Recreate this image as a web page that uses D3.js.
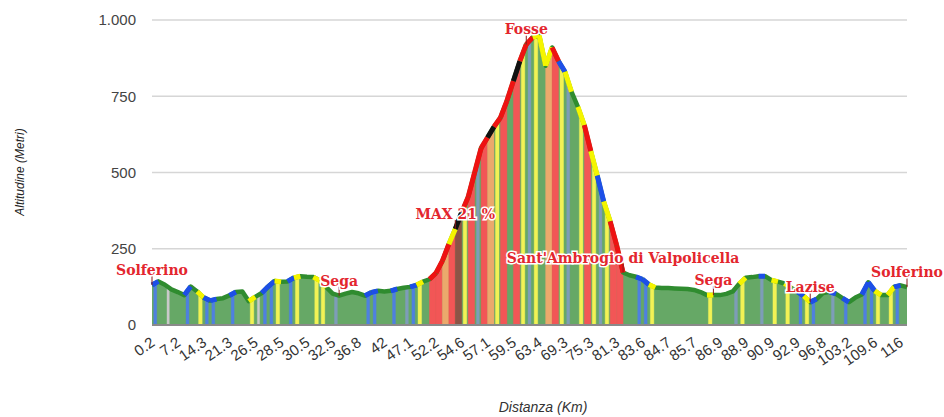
<!DOCTYPE html>
<html>
<head>
<meta charset="utf-8">
<script src="https://cdn.jsdelivr.net/npm/d3@7"></script>
<style>
  body { margin: 0; background: #fff; }
  svg { display: block; }
</style>
</head>
<body>
<div id="profilo"></div>
<script>
// altimetria ogni punto del percorso (metri)
var quota = [
  131, 143, 132, 117, 108, 98, 126, 110, 90, 80,
  85, 88, 97, 108, 110, 78, 92, 105, 126, 144,
  142, 143, 155, 160, 158, 157, 146, 124, 103, 96,
  103, 108, 104, 96, 107, 112, 110, 112, 118, 122,
  125, 131, 142, 150, 170, 210, 265, 315, 370, 420,
  500, 580, 615, 650, 680, 735, 800, 865, 920, 943,
  950, 850, 910, 865, 830, 765, 715, 655, 570, 490,
  405, 340, 262, 172, 163, 158, 150, 133, 123, 121,
  121, 120, 119, 118, 115, 108, 98, 98, 98, 102,
  110, 135, 155, 157, 160, 160, 147, 142, 136, 122,
  109, 95, 75, 85, 105, 109, 102, 88, 75, 90,
  100, 140, 112, 98, 98, 125, 130, 124
]

// etichette dell'asse x (una ogni 4 punti)
var etichetteKm = ["0.2", "7.2", "14.3", "21.3", "26.5", "28.5", "30.5", "32.5", "36.8", "42",
  "47.1", "52.2", "54.6", "57.1", "59.5", "63.4", "69.3", "75.3", "81.3", "83.6",
  "84.7", "85.7", "86.9", "88.9", "90.9", "92.9", "96.8", "103.2", "109.6", "116"]
var puntiPerEtichetta = 4

// classe di pendenza di ogni tratto: riempimento e linea
var fasce = ("BGWGGBGYBB" + "GGBGGYWBBY" + "GBYGGYYGSG" + "GGGBBGGBGS" + "BYGRRORKYR" +
  "SROYRGRYSY" + "GORYSGYRYS" + "YRRGGBBYGG" + "GGGGGGYGGG" + "SYGGSGYGYG" +
  "BYBGGSGBGG" + "BBYGYBG").split("")
var linea = ("BGGGGBGYBB" + "GGBGGYGBBY" + "GBYGGYYGGG" + "GGGBBGGBGG" + "BYGRRRYKRR" +
  "RRKRRRKRRY" + "YYRBYGYRYB" + "YRRGGBBYGG" + "GGGGGGYGGG" + "GYGGBGYGYG" +
  "BYBGGBGBGG" + "BBYGYBG").split("")

// località annotate
var luoghi = ["Solferino", "Sega", "MAX 21 %", "Fosse", "Sant'Ambrogio di Valpolicella", "Sega", "Lazise", "Solferino"]
var luoghiIdx = [0, 29, 47, 58, 73, 87, 102, 117]

var yTicks = [0, 250, 500, 750, 1000]

var coloreFascia = { G: "#66a866", B: "#4f80e0", Y: "#f2f255", R: "#f25656", S: "#7e9db8", O: "#eba96c", K: "#8c5446", W: "#c9c9c9" }
var larghezzaFascia = { G: 1, B: 0.45, Y: 0.55, R: 1, S: 0.45, O: 1, K: 1, W: 0.35 }
var coloreLinea = { G: "#2f8c2f", B: "#1d4fe8", Y: "#f5f500", R: "#ee1212", K: "#111111" }

var width = 944,
    height = 417,
    plotL = 152, plotR = 907, plotT = 20, plotB = 325

var svg = d3.select("#profilo")
  .append("svg")
    .attr("width", width)
    .attr("height", height)

var x = d3.scalePoint()
  .domain(d3.range(quota.length))
  .range([plotL, plotR])

var y = d3.scaleLinear()
  .domain([0, 1000])
  .range([plotB, plotT])

var it = d3.formatLocale({ decimal: ",", thousands: ".", grouping: [3], currency: ["€", ""] })

// griglia
svg.append("g")
  .selectAll("line")
  .data(yTicks.filter(function(d) { return d > 0 }))
  .enter()
  .append("line")
    .attr("x1", plotL).attr("x2", plotR)
    .attr("y1", function(d) { return y(d) }).attr("y2", function(d) { return y(d) })
    .attr("stroke", "#d6d6d6")
    .attr("stroke-width", 1.5)

// area verde di fondo
var area = d3.area()
  .x(function(d) { return x(d) })
  .y0(y(0))
  .y1(function(d) { return y(quota[d]) })

svg.append("path")
  .attr("d", area(d3.range(quota.length)))
  .attr("fill", coloreFascia.G)

// fasce colorate: ogni tratto i -> i+1, ristretto al centro secondo la classe
var fascia = d3.area()
  .x(function(p) { return p[0] })
  .y0(y(0))
  .y1(function(p) { return p[1] })

svg.append("g")
  .selectAll("path")
  .data(fasce.map(function(c, i) { return { c: c, i: i } }).filter(function(d) { return d.c !== "G" }))
  .enter()
  .append("path")
    .attr("d", function(d) {
      var m = (1 - larghezzaFascia[d.c]) / 2
      var ya = y(quota[d.i]), yb = y(quota[d.i + 1])
      var xa = x(d.i), xb = x(d.i + 1)
      return fascia([
        [xa + m * (xb - xa), ya + m * (yb - ya)],
        [xb - m * (xb - xa), yb - m * (yb - ya)]
      ])
    })
    .attr("fill", function(d) { return coloreFascia[d.c] })
    .attr("stroke", function(d) { return coloreFascia[d.c] })
    .attr("stroke-width", 0.4)

// linea del profilo
var line = d3.line()
  .x(function(d) { return x(d) })
  .y(function(d) { return y(quota[d]) })

svg.append("path")
  .attr("d", line(d3.range(quota.length)))
  .attr("fill", "none")
  .attr("stroke", coloreLinea.G)
  .attr("stroke-width", 4.5)
  .attr("stroke-linejoin", "round")

// tratti colorati della linea
svg.append("g")
  .selectAll("path")
  .data(linea.map(function(c, i) { return { c: c, i: i } }).filter(function(d) { return d.c !== "G" }))
  .enter()
  .append("path")
    .attr("d", function(d) { return line([d.i, d.i + 1]) })
    .attr("fill", "none")
    .attr("stroke", function(d) { return coloreLinea[d.c] })
    .attr("stroke-width", 5)

// linea di base
svg.append("line")
  .attr("x1", plotL).attr("x2", plotR)
  .attr("y1", y(0)).attr("y2", y(0))
  .attr("stroke", "#8a8a8a")
  .attr("stroke-width", 2)

// asse y
svg.append("g")
  .selectAll("text")
  .data(yTicks)
  .enter()
  .append("text")
    .attr("x", 136)
    .attr("y", function(d) { return y(d) })
    .attr("dy", "0.36em")
    .attr("text-anchor", "end")
    .style("font-family", "'Liberation Sans', Arial, sans-serif")
    .style("font-size", "15px")
    .style("fill", "#444")
    .text(function(d) { return it.format(",")(d) })

// asse x con etichette inclinate
svg.append("g")
  .selectAll("text")
  .data(etichetteKm)
  .enter()
  .append("text")
    .attr("transform", function(d, i) { return "translate(" + (x(i * puntiPerEtichetta) - 3) + "," + 335 + ") rotate(-35)" })
    .attr("dy", "0.8em")
    .attr("text-anchor", "end")
    .style("font-family", "'Liberation Sans', Arial, sans-serif")
    .style("font-size", "15px")
    .style("fill", "#333")
    .text(function(d) { return d })

// titoli
svg.append("text")
  .attr("transform", "translate(24,172) rotate(-90)")
  .attr("text-anchor", "middle")
  .style("font-family", "'Liberation Sans', Arial, sans-serif")
  .style("font-style", "italic")
  .style("font-size", "12px")
  .style("fill", "#222")
  .text("Altitudine (Metri)")

svg.append("text")
  .attr("x", 543)
  .attr("y", 412)
  .attr("text-anchor", "middle")
  .style("font-family", "'Liberation Sans', Arial, sans-serif")
  .style("font-style", "italic")
  .style("font-size", "14px")
  .style("fill", "#333")
  .text("Distanza (Km)")

// annotazioni
var ann = svg.append("g")
  .selectAll("g")
  .data(luoghi)
  .enter()
  .append("g")
    .attr("transform", function(d, i) { var k = luoghiIdx[i]; return "translate(" + x(k) + "," + y(quota[k]) + ")" })

ann.append("line")
  .attr("y1", 0).attr("y2", -9)
  .attr("stroke", "#8b1a1a")
  .attr("stroke-width", 1)

ann.append("text")
  .attr("y", -10)
  .attr("text-anchor", "middle")
  .style("font-family", "'DejaVu Serif', serif")
  .style("font-weight", "bold")
  .style("font-size", "14px")
  .style("fill", "#e3262e")
  .style("stroke", "#fff")
  .style("stroke-width", 3)
  .style("paint-order", "stroke")
  .text(function(d) { return d })
</script>
</body>
</html>
